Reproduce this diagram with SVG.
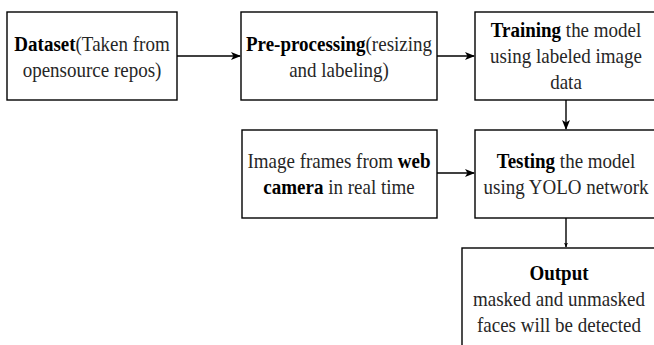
<svg xmlns="http://www.w3.org/2000/svg" width="654" height="345" viewBox="0 0 654 345">
  <style>
    .box { fill: #ffffff; stroke: #000000; stroke-width: 1.4; }
    .lbl { font-family: "Liberation Serif", "Times New Roman", serif; font-size: 19px; fill: #262626; text-anchor: middle; }
    .b { font-weight: bold; fill: #000000; }
    .edge { fill: none; stroke: #000000; stroke-width: 1.4; }
  </style>
  <defs>
    <marker id="arrow" viewBox="0 0 10 8" refX="9" refY="4" markerWidth="10" markerHeight="8" markerUnits="userSpaceOnUse" orient="auto">
      <path d="M0,0 L10,4 L0,8 L2.5,4 z" fill="#000000"/>
    </marker>
    <marker id="arrow-small" viewBox="0 0 10 8" refX="9" refY="4" markerWidth="5" markerHeight="4" markerUnits="userSpaceOnUse" orient="auto">
      <path d="M0,0 L10,4 L0,8 L2.5,4 z" fill="#000000"/>
    </marker>
  </defs>

  <rect width="654" height="345" fill="#ffffff"/>

  <g id="connectors">
    <path class="edge" d="M177,56 L240,56" marker-end="url(#arrow)"/>
    <path class="edge" d="M437,56 L474,56" marker-end="url(#arrow)"/>
    <path class="edge" d="M566,100 L566,129" marker-end="url(#arrow)"/>
    <path class="edge" d="M437,173 L474,173" marker-end="url(#arrow)"/>
    <path class="edge" d="M566,218 L566,247" marker-end="url(#arrow-small)"/>
  </g>

  <!-- labels are drawn slightly tall: scale(1,1.15) about each baseline -->
  <g id="dataset">
    <rect class="box" x="7" y="12" width="170" height="88"/>
    <text class="lbl" transform="translate(92,51) scale(1,1.15)"><tspan class="b">Dataset</tspan>(Taken from</text>
    <text class="lbl" transform="translate(92,77) scale(1,1.15)">opensource repos)</text>
  </g>

  <g id="preprocessing">
    <rect class="box" x="241" y="12" width="196" height="88"/>
    <text class="lbl" transform="translate(339,51) scale(1,1.15)"><tspan class="b">Pre-processing</tspan>(resizing</text>
    <text class="lbl" transform="translate(339,77) scale(1,1.15)">and labeling)</text>
  </g>

  <g id="training">
    <rect class="box" x="475" y="12" width="182" height="88"/>
    <text class="lbl" transform="translate(566,37) scale(1,1.15)"><tspan class="b">Training</tspan> the model</text>
    <text class="lbl" transform="translate(566,63) scale(1,1.15)">using labeled image</text>
    <text class="lbl" transform="translate(566,89) scale(1,1.15)">data</text>
  </g>

  <g id="webcam">
    <rect class="box" x="242" y="130" width="195" height="88"/>
    <text class="lbl" transform="translate(339,168) scale(1,1.15)">Image frames from <tspan class="b">web</tspan></text>
    <text class="lbl" transform="translate(339,194) scale(1,1.15)"><tspan class="b">camera</tspan> in real time</text>
  </g>

  <g id="testing">
    <rect class="box" x="475" y="130" width="182" height="88"/>
    <text class="lbl" transform="translate(566,168) scale(1,1.15)"><tspan class="b">Testing</tspan> the model</text>
    <text class="lbl" transform="translate(566,194) scale(1,1.15)">using YOLO network</text>
  </g>

  <g id="output">
    <rect class="box" x="462" y="248" width="194" height="110"/>
    <text class="lbl b" transform="translate(559,280) scale(1,1.15)">Output</text>
    <text class="lbl" transform="translate(559,306) scale(1,1.15)">masked and unmasked</text>
    <text class="lbl" transform="translate(559,332) scale(1,1.15)">faces will be detected</text>
  </g>
</svg>
